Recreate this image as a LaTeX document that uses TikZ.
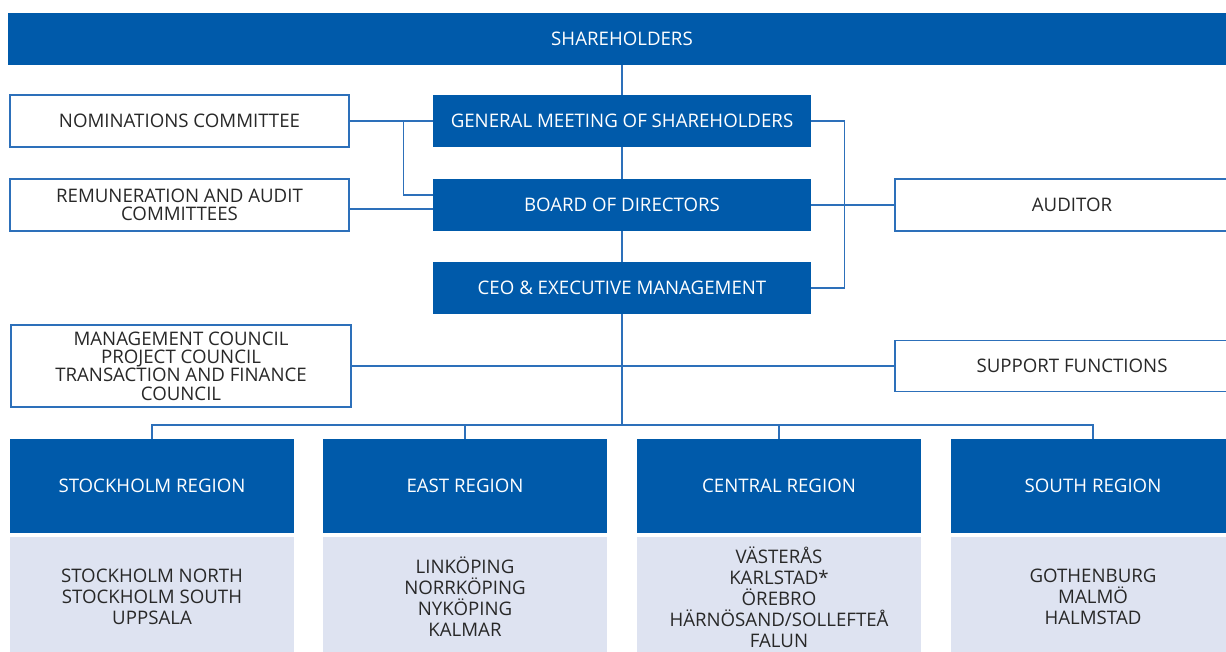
\documentclass[tikz,border=0pt]{standalone}
\usepackage{fontspec}
\setmainfont{Open Sans}
\definecolor{darkblue}{RGB}{0,90,170}
\definecolor{lineblue}{RGB}{45,112,186}
\definecolor{paleblue}{RGB}{222,227,241}
\definecolor{textgrey}{RGB}{40,40,40}
\tikzset{
  bluebox/.style={fill=darkblue, text=white, inner sep=0pt, align=center,
    font=\fontsize{14}{13.8}\selectfont},
  whitebox/.style={draw=lineblue, line width=1pt, fill=white, text=textgrey, inner sep=0pt,
    align=center, font=\fontsize{14}{13.8}\selectfont},
  listbox/.style={fill=paleblue, text=textgrey, inner sep=0pt, align=center,
    minimum width=213pt, minimum height=90pt, font=\fontsize{14}{15.75}\selectfont},
  regionbox/.style={bluebox, minimum width=213pt, minimum height=70.5pt},
  mainbox/.style={bluebox, minimum width=283.5pt, minimum height=39pt},
  link/.style={draw=lineblue, line width=1pt}
}
\begin{document}
\begin{tikzpicture}[x=0.75pt,y=0.75pt,yscale=-1]
\clip (0,0) rectangle (1226,652);

% top row
\node (sh) at (622,39) [bluebox, minimum width=921pt, minimum height=39pt] {SHAREHOLDERS};

% centre column
\node (gm) at (622,121) [mainbox] {GENERAL MEETING OF SHAREHOLDERS};
\node (board) at (622,205) [mainbox] {BOARD OF DIRECTORS};
\node (ceo) at (622,288) [mainbox] {CEO \& EXECUTIVE MANAGEMENT};

% left column
\node (nom) at (179.5,121) [whitebox, minimum width=254.25pt, minimum height=39pt] {NOMINATIONS COMMITTEE};
\node (rem) at (179.5,205) [whitebox, minimum width=254.25pt, minimum height=39pt] {REMUNERATION AND AUDIT\\COMMITTEES};
\node (cou) at (181,366) [whitebox, minimum width=255pt, minimum height=61.5pt]
  {MANAGEMENT COUNCIL\\PROJECT COUNCIL\\TRANSACTION AND FINANCE\\COUNCIL};

% right column
\node (aud) at (1072,205) [whitebox, minimum width=265.5pt, minimum height=39pt] {AUDITOR};
\node (sup) at (1072,366) [whitebox, minimum width=265.5pt, minimum height=38.25pt] {SUPPORT FUNCTIONS};

% regions
\node (sto) at (152,486) [regionbox] {STOCKHOLM REGION};
\node (eas) at (465,486) [regionbox] {EAST REGION};
\node (cen) at (779,486) [regionbox] {CENTRAL REGION};
\node (sou) at (1093,486) [regionbox] {SOUTH REGION};
\node (stolist) at (152,597) [listbox] {STOCKHOLM NORTH\\STOCKHOLM SOUTH\\UPPSALA};
\node (easlist) at (465,597) [listbox] {LINKÖPING\\NORRKÖPING\\NYKÖPING\\KALMAR};
\node (cenlist) at (779,597) [listbox] {VÄSTERÅS\\KARLSTAD*\\ÖREBRO\\HÄRNÖSAND/SOLLEFTEÅ\\FALUN};
\node (soulist) at (1093,597) [listbox] {GOTHENBURG\\MALMÖ\\HALMSTAD};

\coordinate (split) at (622,425);

% connectors
\draw [link] (sh) -- (gm);
\draw [link] (gm) -- (board);
\draw [link] (board) -- (ceo);
\draw [link] (nom.east) -- (gm.west);
\draw [link] (nom.east) ++(54,0) |- ([yshift=-7.5pt]board.west);
\draw [link] ([yshift=3pt]rem.east) -- ([yshift=3pt]board.west);
\draw [link] (gm.east) -| ([xshift=24.75pt]ceo.east) -- (ceo.east);
\draw [link] (board) -- (aud);
\draw [link] (cou) -- (sup);
\draw [link] (ceo) -- (split);
\draw [link] (sto.north) |- (split) -| (sou.north);
\foreach \r in {eas,cen}
  \draw [link] (\r.north) -- (\r.north |- split);

\end{tikzpicture}
\end{document}
